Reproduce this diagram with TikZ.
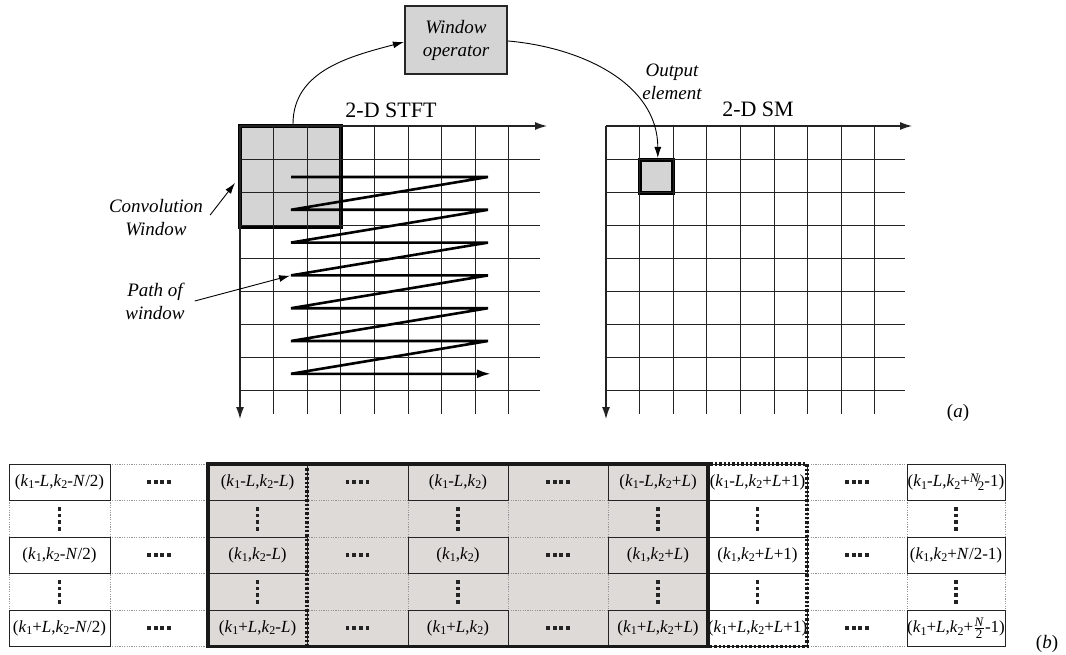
\documentclass[tikz,border=0pt]{standalone}
\usepackage{fontspec}
\setmainfont{Liberation Serif}
\usetikzlibrary{arrows.meta}
\definecolor{tblgray}{RGB}{222,218,215}
\definecolor{wingray}{RGB}{212,212,212}
\definecolor{gridc}{RGB}{35,35,35}
\definecolor{lgridc}{RGB}{150,150,150}
\newcommand\subn[1]{\raisebox{-0.32ex}{\fontsize{12}{12}\selectfont #1}}
\newcommand\ka{\textit{k}\subn{1}}
\newcommand\kb{\textit{k}\subn{2}}
\newcommand\iL{\textit{L}}
\newcommand\iN{\textit{N}}
\newcommand\nfr{\raisebox{0.5ex}{\fontsize{13}{13}\selectfont\textit{N}}\kern-0.2em/\kern-0.15em\raisebox{-0.45ex}{\fontsize{13}{13}\selectfont 2}}
\newcommand\sfr{$\frac{\mbox{\fontsize{13}{13}\selectfont\textit{N}}}{\mbox{\fontsize{13}{13}\selectfont 2}}$}
\newcommand\hdd[1]{\foreach \d in {-10,-3.3,3.3,10} {\fill[gridc] ([shift={(\d-1.9,-1.9)}]#1) rectangle ++(3.8,3.8);}}
\newcommand\vdd[1]{\foreach \d in {-10,-3.3,3.3,10} {\fill[gridc] ([shift={(-1.9,\d-1.9)}]#1) rectangle ++(3.8,3.8);}}
\begin{document}
\begin{tikzpicture}[x=1pt,y=-1pt,
  gridline/.style={draw=gridc,line width=1pt},
  axis/.style={draw=gridc,line width=1.1pt,-{Latex[length=12pt,width=8pt]}},
  arr/.style={draw=black,line width=0.9pt,-{Latex[length=11pt,width=7pt]}},
  lab/.style={font=\fontsize{19}{23}\selectfont\itshape,align=center,inner sep=2pt},
  ttl/.style={font=\fontsize{22}{26}\selectfont},
  zig/.style={draw=black,line width=2.6pt,line join=bevel},
  lgrid/.style={draw=lgridc,line width=0.7pt,dash pattern=on 1.2pt off 1.2pt},
  cell/.style={draw=gridc,line width=1pt,minimum height=36.5pt,inner sep=0pt,font=\fontsize{17}{20}\selectfont}
]
\useasboundingbox (0,0) rectangle (1066,655);

% ---------- left grid (2-D STFT)
\node[draw=black,line width=4pt,fill=wingray,minimum width=101pt,minimum height=101pt,inner sep=0pt] (cw) at (290.5,176.5) {};
\foreach \i in {1,...,8} {
  \draw[gridline] ({240+33.6*\i},126) -- ({240+33.6*\i},414);
  \draw[gridline] (240,{126+33.1*\i}) -- (540,{126+33.1*\i});
}
\draw[axis] (240,126) -- (547,126);
\draw[axis] (240,126) -- (240,419);
\node[ttl,anchor=base] (stft) at (391,118) {2-D STFT};

% ---------- right grid (2-D SM)
\node[draw=black,line width=4pt,fill=wingray,minimum width=33.6pt,minimum height=33.1pt,inner sep=0pt] (out) at (656.3,176.55) {};
\foreach \i in {1,...,8} {
  \draw[gridline] ({606+33.6*\i},126) -- ({606+33.6*\i},414);
  \draw[gridline] (606,{126+33.1*\i}) -- (905,{126+33.1*\i});
}
\draw[axis] (606,126) -- (912,126);
\draw[axis] (606,126) -- (606,419);
\node[ttl,anchor=base] (sm) at (758,117) {2-D SM};

% ---------- window operator
\node[draw=black!85,line width=2.2pt,fill=wingray,minimum width=102pt,minimum height=68pt,align=center,
      font=\fontsize{19}{23}\selectfont\itshape] (op) at (456,40) {Window\\operator};

% ---------- zigzag path
\foreach \i in {0,...,6} {
  \coordinate (zl\i) at (291,{177+32.8*\i});
  \coordinate (zr\i) at (488,{177+32.8*\i});
}
\draw[zig,-{Latex[length=14pt,width=9pt]}] (zl0)--(zr0)--(zl1)--(zr1)--(zl2)--(zr2)--(zl3)--(zr3)--(zl4)--(zr4)--(zl5)--(zr5)--(zl6)--([xshift=3pt]zr6);

% ---------- labels
\node[lab] (oel) at (672,82) {Output\\element};
\node[lab] (cwl) at (156,218) {Convolution\\Window};
\node[lab] (pwl) at (155,301) {Path of\\window};
\node[font=\fontsize{19}{23}\selectfont] (la) at (958,413) {(\textit{a})};
\node[font=\fontsize{19}{23}\selectfont] (lb) at (1047,644) {(\textit{b})};

% ---------- connectors
\draw[arr] ([xshift=2.5pt]cw.north) to[out=90,in=195] ([yshift=-2pt]op.west);
\draw[arr] ([yshift=-1pt]op.east) to[out=-5,in=90] ([xshift=1.5pt]out.north);
\draw[arr] ([xshift=5pt,yshift=3pt]cwl.east) -- ([xshift=-3pt,yshift=-6.5pt]cw.west);
\draw[arr,shorten >=1pt] ([xshift=8pt]pwl.east) -- (zl3);

% ---------- table (b)
\fill[tblgray] (208,464) rectangle (708,646.5);
\foreach \x in {9,110,208,307,408,508,608,708,807,907,1005}
  \draw[lgrid] (\x,464) -- (\x,646.5);
\foreach \y in {464,500.5,537,573.5,610,646.5}
  \draw[lgrid] (9,\y) -- (1005,\y);

% row 1
\node[cell,minimum width=101pt] (c11) at (59.5,482.25) {(\ka-\iL,\kb-\iN/2)};
\node[cell,minimum width=99pt]  (c13) at (257.5,482.25) {(\ka-\iL,\kb-\iL)};
\node[cell,minimum width=100pt] (c15) at (458,482.25) {(\ka-\iL,\kb)};
\node[cell,minimum width=100pt] (c17) at (658,482.25) {(\ka-\iL,\kb+\iL)};
\node[cell,minimum width=99pt]  (c18) at (757.5,482.25) {(\ka-\iL,\kb+\iL+1)};
\node[cell,minimum width=98pt]  (c110) at (956,482.25) {(\ka-\iL,\kb+\nfr-1)};
% row 3
\node[cell,minimum width=101pt] (c31) at (59.5,555.25) {(\ka,\kb-\iN/2)};
\node[cell,minimum width=99pt]  (c33) at (257.5,555.25) {(\ka,\kb-\iL)};
\node[cell,minimum width=100pt] (c35) at (458,555.25) {(\ka,\kb)};
\node[cell,minimum width=100pt] (c37) at (658,555.25) {(\ka,\kb+\iL)};
\node[cell,minimum width=99pt]  (c38) at (757.5,555.25) {(\ka,\kb+\iL+1)};
\node[cell,minimum width=98pt]  (c310) at (956,555.25) {(\ka,\kb+\iN/2-1)};
% row 5
\node[cell,minimum width=101pt] (c51) at (59.5,628.25) {(\ka+\iL,\kb-\iN/2)};
\node[cell,minimum width=99pt]  (c53) at (257.5,628.25) {(\ka+\iL,\kb-\iL)};
\node[cell,minimum width=100pt] (c55) at (458,628.25) {(\ka+\iL,\kb)};
\node[cell,minimum width=100pt] (c57) at (658,628.25) {(\ka+\iL,\kb+\iL)};
\node[cell,minimum width=99pt]  (c58) at (757.5,628.25) {(\ka+\iL,\kb+\iL+1)};
\node[cell,minimum width=98pt]  (c510) at (956,628.25) {(\ka+\iL,\kb+\sfr-1)};

% horizontal dots
\foreach \y in {482.25,555.25,628.25}
  \foreach \x in {159,357.5,558,857} {
    \coordinate (hd) at (\x,\y);
    \hdd{hd}
  }
% vertical dots
\foreach \y in {518.75,591.75}
  \foreach \x in {59.5,257.5,458,658,757.5,956} {
    \coordinate (vd) at (\x,\y);
    \vdd{vd}
  }

% window frames
\draw[black!90,line width=3.6pt] (208,464) rectangle (708,646.5);
\draw[black!90,line width=3.2pt,dash pattern=on 2.4pt off 2pt] (307,464) rectangle (807,646.5);
\end{tikzpicture}
\end{document}
